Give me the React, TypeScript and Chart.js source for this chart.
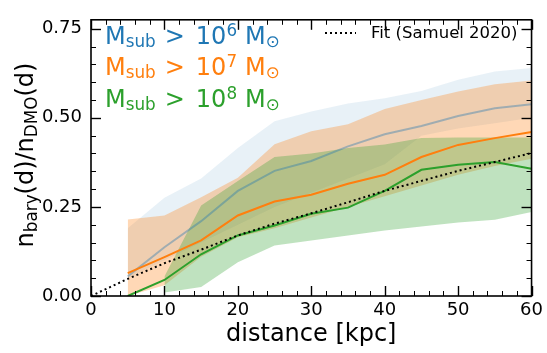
import { useEffect, useRef } from 'react';
import { Chart, registerables } from 'chart.js';

Chart.register(...registerables);

// Subhalo radial distribution ratio, hydro vs dark-matter-only
const distances = [5, 10, 15, 20, 25, 30, 35, 40, 45, 50, 55, 60];

const ratioM6 = [0.055, 0.137, 0.21, 0.295, 0.351, 0.379, 0.42, 0.454, 0.477, 0.505, 0.527, 0.538];
const ratioM6Low = [0.05, 0.1, 0.15, 0.2, 0.25, 0.29, 0.33, 0.37, 0.45, 0.47, 0.485, 0.5];
const ratioM6High = [0.19, 0.276, 0.33, 0.415, 0.49, 0.518, 0.54, 0.555, 0.575, 0.607, 0.63, 0.64];

const ratioM7 = [0.064, 0.109, 0.156, 0.226, 0.265, 0.284, 0.315, 0.34, 0.39, 0.424, 0.443, 0.46];
const ratioM7Low = [0.0, 0.03, 0.11, 0.165, 0.19, 0.22, 0.25, 0.28, 0.31, 0.34, 0.365, 0.385];
const ratioM7High = [0.215, 0.226, 0.277, 0.332, 0.426, 0.462, 0.482, 0.525, 0.55, 0.574, 0.594, 0.605];

const ratioM8 = [0.0, 0.045, 0.117, 0.17, 0.198, 0.231, 0.248, 0.295, 0.354, 0.368, 0.376, 0.357];
const ratioM8Low = [null, 0.01, 0.025, 0.095, 0.142, 0.156, 0.17, 0.184, 0.195, 0.206, 0.214, 0.236];
const ratioM8High = [null, 0.055, 0.254, 0.323, 0.39, 0.4, 0.415, 0.425, 0.443, 0.445, 0.445, 0.445];

// Samuel et al. (2020) fit
const fitDistances = [0, 5, 10, 15, 20, 25, 30, 35, 40, 45, 50, 55, 60];
const fitRatio = [0, 0.048, 0.092, 0.13, 0.17, 0.203, 0.232, 0.263, 0.295, 0.323, 0.351, 0.376, 0.401];

const xMajorTicks = [0, 10, 20, 30, 40, 50, 60];
const yMajorTicks = [0, 0.25, 0.5, 0.75];

const BLUE = '#1f77b4';
const ORANGE = '#ff7f0e';
const GREEN = '#2ca02c';
const FONT = '"DejaVu Sans", sans-serif';

const pts = (xs: number[], ys: (number | null)[]) => xs.map((x, i) => ({ x, y: ys[i] }));

type Piece = { t: string; s?: number; dy?: number; gap?: number };

function drawPieces(ctx: CanvasRenderingContext2D, pieces: Piece[], x: number, y: number, size: number) {
  let cx = x;
  for (const p of pieces) {
    cx += p.gap ?? 0;
    const fs = size * (p.s ?? 1);
    ctx.font = `${fs}px ${FONT}`;
    ctx.fillText(p.t, cx, y + (p.dy ?? 0));
    cx += ctx.measureText(p.t).width;
  }
  return cx - x;
}

function piecesWidth(ctx: CanvasRenderingContext2D, pieces: Piece[], size: number) {
  let w = 0;
  for (const p of pieces) {
    w += p.gap ?? 0;
    ctx.font = `${size * (p.s ?? 1)}px ${FONT}`;
    w += ctx.measureText(p.t).width;
  }
  return w;
}

const massLabel = (exp: string): Piece[] => [
  { t: 'M' },
  { t: 'sub', s: 0.7, dy: 3 },
  { t: '>', gap: 9 },
  { t: '10', gap: 11 },
  { t: exp, s: 0.7, dy: -8 },
  { t: 'M', gap: 8 },
  { t: '\u2299', s: 0.7, dy: 3 },
];

const annotations = {
  id: 'annotations',
  afterDraw(chart: Chart) {
    const { ctx, chartArea: a, scales } = chart;
    const xs = scales.x;
    const ys = scales.y;
    ctx.save();

    // inward ticks on all four sides
    ctx.strokeStyle = '#000';
    const tick = (x1: number, y1: number, x2: number, y2: number, w: number) => {
      ctx.lineWidth = w;
      ctx.beginPath();
      ctx.moveTo(x1, y1);
      ctx.lineTo(x2, y2);
      ctx.stroke();
    };
    for (let v = 0; v <= 60; v += 2) {
      const major = xMajorTicks.includes(v);
      const len = major ? 10 : 5;
      const px = Math.round(xs.getPixelForValue(v)) + 0.5;
      tick(px, a.bottom, px, a.bottom - len, major ? 1.4 : 1);
      tick(px, a.top, px, a.top + len, major ? 1.4 : 1);
    }
    for (let i = 0; i <= 15; i++) {
      const v = i * 0.05;
      const major = yMajorTicks.some((t) => Math.abs(t - v) < 1e-9);
      const len = major ? 10 : 5;
      const py = Math.round(ys.getPixelForValue(v)) + 0.5;
      tick(a.left, py, a.left + len, py, major ? 1.4 : 1);
      tick(a.right, py, a.right - len, py, major ? 1.4 : 1);
    }

    // axes frame
    ctx.lineWidth = 1.6;
    ctx.strokeRect(a.left, a.top, a.right - a.left, a.bottom - a.top);

    // y-axis title with subscripts
    const yTitle: Piece[] = [
      { t: 'n' },
      { t: 'bary', s: 0.7, dy: 4 },
      { t: '(d)/n' },
      { t: 'DMO', s: 0.7, dy: 4 },
      { t: '(d)' },
    ];
    const tSize = 24;
    const tw = piecesWidth(ctx, yTitle, tSize);
    ctx.save();
    ctx.translate(33, 155);
    ctx.rotate(-Math.PI / 2);
    ctx.fillStyle = '#000';
    ctx.textBaseline = 'alphabetic';
    drawPieces(ctx, yTitle, -tw / 2, 0, tSize);
    ctx.restore();

    // coloured mass-threshold labels
    ctx.textBaseline = 'alphabetic';
    const rows: [string, string, number][] = [
      ['6', BLUE, 43.5],
      ['7', ORANGE, 75],
      ['8', GREEN, 107],
    ];
    for (const [exp, color, base] of rows) {
      ctx.fillStyle = color;
      drawPieces(ctx, massLabel(exp), 105, base, 24);
    }

    // fit legend entry
    ctx.strokeStyle = '#000';
    ctx.lineWidth = 2;
    ctx.setLineDash([2, 3]);
    ctx.beginPath();
    ctx.moveTo(325, 33);
    ctx.lineTo(356, 33);
    ctx.stroke();
    ctx.setLineDash([]);
    ctx.fillStyle = '#000';
    ctx.font = `16.5px ${FONT}`;
    ctx.fillText('Fit (Samuel 2020)', 371, 38);

    ctx.restore();
  },
};

export default function App() {
  const ref = useRef<HTMLCanvasElement>(null);

  useEffect(() => {
    if (!ref.current) return;
    const band = (data: (number | null)[], order: number, fill: string | false, color = 'transparent') => ({
      data: pts(distances, data),
      borderColor: 'transparent',
      borderWidth: 0,
      pointRadius: 0,
      fill,
      backgroundColor: color,
      order,
      spanGaps: false,
    });
    const line = (data: number[], color: string, order: number) => ({
      data: pts(distances, data),
      borderColor: color,
      borderWidth: 2,
      pointRadius: 0,
      fill: false,
      order,
    });

    const chart = new Chart(ref.current, {
      type: 'line',
      data: {
        datasets: [
          band(ratioM6Low, 10, false),
          band(ratioM6High, 9, '-1', 'rgba(31,119,180,0.1)'),
          band(ratioM7Low, 8, false),
          band(ratioM7High, 7, '-1', 'rgba(255,127,14,0.3)'),
          band(ratioM8Low, 6, false),
          band(ratioM8High, 5, '-1', 'rgba(44,160,44,0.3)'),
          line(ratioM6, 'rgba(31,119,180,0.38)', 3),
          line(ratioM7, ORANGE, 2),
          line(ratioM8, GREEN, 1),
          {
            data: pts(fitDistances, fitRatio),
            borderColor: '#000',
            borderWidth: 2,
            borderDash: [2, 3],
            borderCapStyle: 'butt',
            pointRadius: 0,
            fill: false,
            order: 0,
          },
        ] as any,
      },
      options: {
        animation: false,
        responsive: false,
        events: [],
        layout: { padding: { top: 18, right: 13, left: 0, bottom: 0 } },
        plugins: {
          legend: { display: false },
          tooltip: { enabled: false },
          filler: { drawTime: 'beforeDatasetsDraw' },
        },
        scales: {
          x: {
            type: 'linear',
            min: 0,
            max: 60,
            grid: { display: false, drawTicks: false },
            border: { display: false },
            ticks: {
              stepSize: 10,
              includeBounds: false,
              padding: 4,
              color: '#000',
              font: { family: FONT, size: 18 },
              maxRotation: 0,
            },
            title: {
              display: true,
              text: 'distance [kpc]',
              color: '#000',
              font: { family: FONT, size: 24 },
              padding: { top: 0, bottom: 4 },
            },
            afterFit: (s: any) => {
              s.height = 57;
            },
          },
          y: {
            type: 'linear',
            min: 0,
            max: 0.775,
            grid: { display: false, drawTicks: false },
            border: { display: false },
            ticks: {
              stepSize: 0.25,
              includeBounds: false,
              padding: 9,
              color: '#000',
              font: { family: FONT, size: 18 },
              callback: (v: any) => Number(v).toFixed(2),
            },
            afterFit: (s: any) => {
              s.width = 91;
            },
          },
        },
      } as any,
      plugins: [annotations],
    });
    return () => chart.destroy();
  }, []);

  return (
    <div style={{ position: 'absolute', left: 0, top: 0, width: 547, height: 353, background: '#fff' }}>
      <canvas ref={ref} width={547} height={353} style={{ display: 'block' }} />
    </div>
  );
}
